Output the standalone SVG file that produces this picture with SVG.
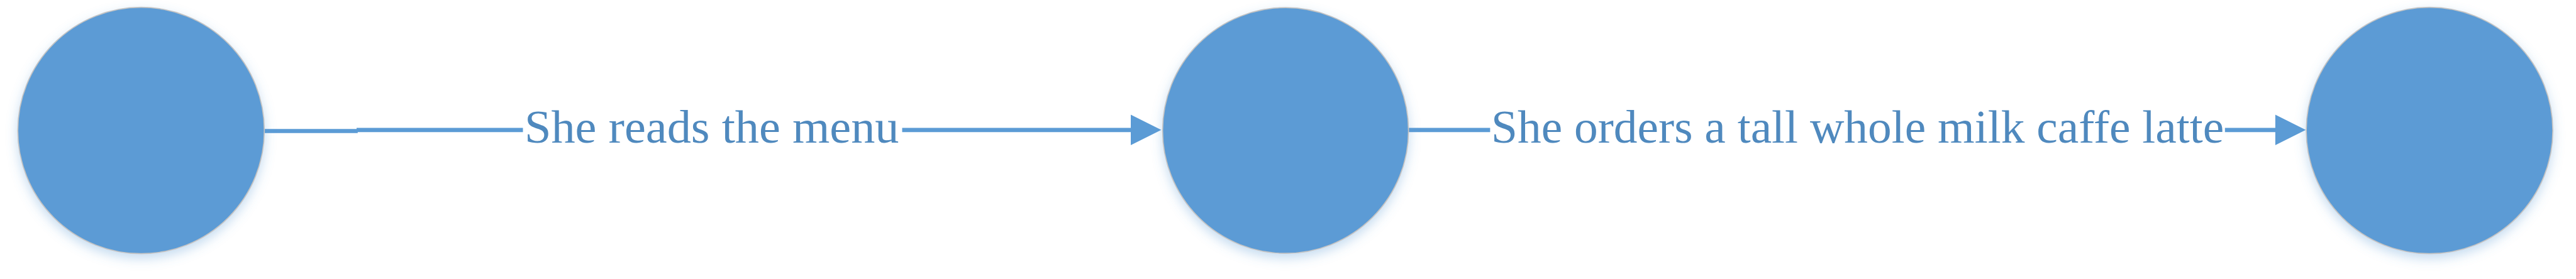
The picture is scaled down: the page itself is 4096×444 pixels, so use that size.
<svg xmlns="http://www.w3.org/2000/svg" width="4096" height="444" viewBox="0 0 4096 444">
  <defs>
    <filter id="glow" x="-20%" y="-20%" width="140%" height="150%">
      <feDropShadow dx="0" dy="7" stdDeviation="9" flood-color="#5B9BD5" flood-opacity="0.35"/>
    </filter>
  </defs>
  <style>
    .node { fill: #5B9BD5; stroke: #C4C4C4; stroke-width: 1.7; filter: url(#glow); }
    .edge { fill: none; stroke: #5B9BD5; stroke-width: 6.7; }
    .head { fill: #5B9BD5; stroke: none; }
    .label { font-family: "Liberation Serif", "DejaVu Serif", serif; font-size: 73.4px; fill: #4F89BE; }
  </style>
  <rect width="4096" height="444" fill="#FFFFFF"/>
  <g id="connectors">
    <g id="edge1">
      <path class="edge" d="M418.7,208.5 H568.8 M567,206.8 H831.5 M1434.5,206.8 H1800"/>
      <polygon class="head" points="1798,182.6 1846.5,206.8 1798,231"/>
      <text class="label" x="834" y="226.8" textLength="595.5" lengthAdjust="spacingAndGlyphs">She reads the menu</text>
    </g>
    <g id="edge2">
      <path class="edge" d="M2239.3,206.8 H2369.4 M3537.8,206.8 H3620"/>
      <polygon class="head" points="3617.9,182.6 3666.3,206.8 3617.9,231"/>
      <text class="label" x="2371" y="226.8" textLength="1165.2" lengthAdjust="spacingAndGlyphs">She orders a tall whole milk caffe latte</text>
    </g>
  </g>
  <g id="node1"><circle class="node" cx="224.3" cy="207.7" r="196"/></g>
  <g id="node2"><circle class="node" cx="2044.1" cy="207.7" r="195.5"/></g>
  <g id="node3"><circle class="node" cx="3863.1" cy="207.7" r="196"/></g>
</svg>
